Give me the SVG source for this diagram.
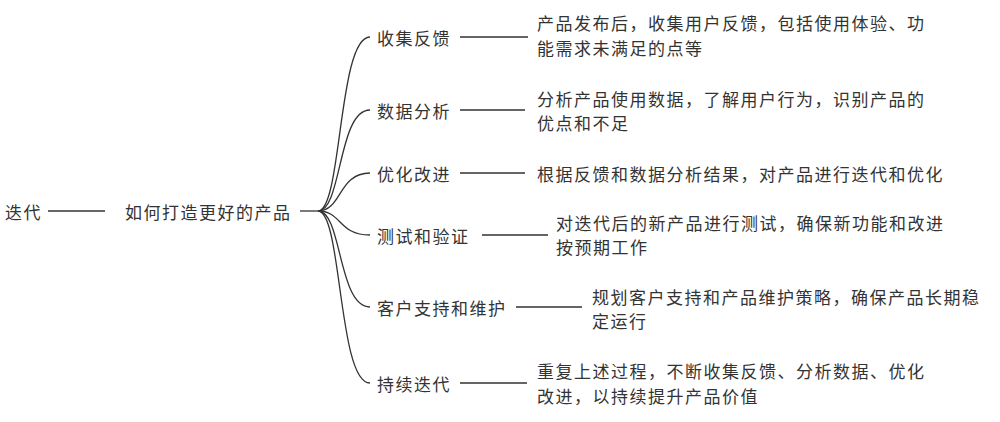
<svg xmlns="http://www.w3.org/2000/svg" width="1000" height="422" viewBox="0 0 1000 422">
<style>
text{font-family:"Noto Sans CJK SC","Noto Sans",sans-serif;font-size:17px;letter-spacing:1.5px;fill:#333;dominant-baseline:central}
.l{stroke:#333;stroke-width:1.3;fill:none}
</style>
<rect width="1000" height="422" fill="#fff"/>
<g id="connectors">
<path class="l" d="M48 211H105"/>
<path class="l" d="M300 211H318"/>
<path class="l" d="M318 211C342 211 338 37 370 37"/>
<path class="l" d="M318 211C342 211 338 110 370 110"/>
<path class="l" d="M318 211C342 211 338 173 370 173"/>
<path class="l" d="M318 211C342 211 338 235 370 235"/>
<path class="l" d="M318 211C342 211 338 307 370 307"/>
<path class="l" d="M318 211C342 211 338 383 370 383"/>
<path class="l" d="M460 37H528M460 110H525M460 173H525M482 235H548M516 307H582M460 383H527"/>
</g>
<g id="root"><text x="5" y="211">迭代</text></g>
<g id="main"><text x="125" y="211">如何打造更好的产品</text></g>
<g id="n1"><text x="377" y="37">收集反馈</text></g>
<g id="d1"><text x="537" y="22">产品发布后，收集用户反馈，包括使用体验、功</text><text x="537" y="47">能需求未满足的点等</text></g>
<g id="n2"><text x="377" y="110">数据分析</text></g>
<g id="d2"><text x="537" y="98">分析产品使用数据，了解用户行为，识别产品的</text><text x="537" y="122">优点和不足</text></g>
<g id="n3"><text x="377" y="173">优化改进</text></g>
<g id="d3"><text x="537" y="173">根据反馈和数据分析结果，对产品进行迭代和优化</text></g>
<g id="n4"><text x="377" y="235">测试和验证</text></g>
<g id="d4"><text x="556" y="222">对迭代后的新产品进行测试，确保新功能和改进</text><text x="556" y="246">按预期工作</text></g>
<g id="n5"><text x="377" y="307">客户支持和维护</text></g>
<g id="d5"><text x="592" y="296">规划客户支持和产品维护策略，确保产品长期稳</text><text x="592" y="320">定运行</text></g>
<g id="n6"><text x="377" y="383">持续迭代</text></g>
<g id="d6"><text x="537" y="370">重复上述过程，不断收集反馈、分析数据、优化</text><text x="537" y="395">改进，以持续提升产品价值</text></g>
</svg>
